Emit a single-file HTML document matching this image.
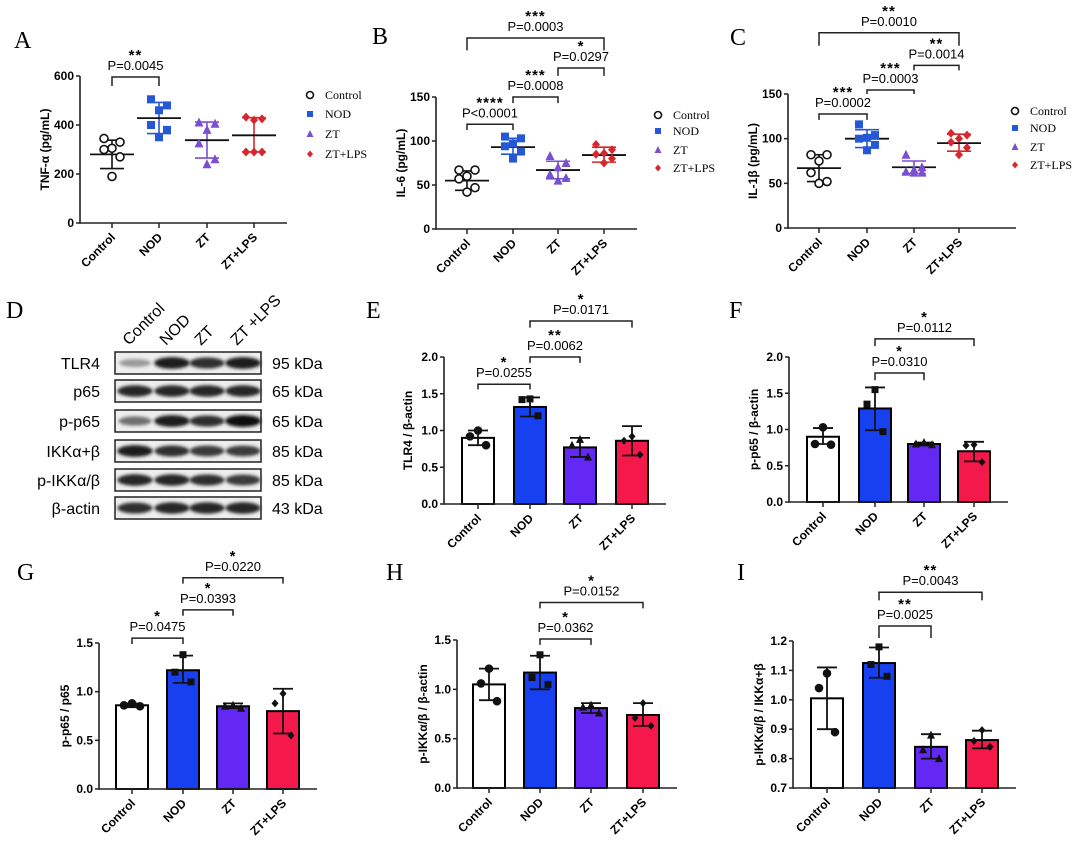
<!DOCTYPE html>
<html><head><meta charset="utf-8">
<style>
html,body{margin:0;padding:0;background:#fff;}
svg{display:block;font-family:"Liberation Sans",Arial,sans-serif;}
.tick{font-size:12px;font-weight:bold;}
.ylab{font-size:12px;font-weight:bold;}
.pt{font-size:13px;}
.star{font-size:15px;font-weight:bold;}
.serif{font-family:"Liberation Serif",serif;}
</style></head>
<body>
<svg id="fig" width="1080" height="845" viewBox="0 0 1080 845" xmlns="http://www.w3.org/2000/svg">
<defs><filter id="blur" x="-20%" y="-50%" width="140%" height="200%"><feGaussianBlur stdDeviation="1.6"/></filter></defs>
</svg>
<script>
// ---------- data ----------
const categories = ["Control","NOD","ZT","ZT+LPS"];
// Panel A TNF-α
const aMean=[280,428,338,358], aUp=[338,492,412,430], aLo=[222,365,265,290];
const aPts=[[345,330,305,300,270,190],[505,480,460,400,380,350],[410,405,380,325,260,240],[432,425,420,290,290,290]];
const aTicks=[0,200,400,600];
// Panel B IL-6
const bMean=[55,93,67,84], bUp=[66,103,77,93], bLo=[44,85,57,76];
const bPts=[[67,67,60,57,47,42],[105,103,97,94,88,80],[83,75,70,62,58,55],[96,90,86,85,80,75]];
const bTicks=[0,50,100,150];
// Panel C IL-1β
const cMean=[67,100,68,95], cUp=[82,110,75,105], cLo=[52,90,61,86];
const cPts=[[82,82,75,62,52,50],[116,104,101,100,93,87],[82,68,65,63,62,62],[106,104,100,96,90,82]];
const cTicks=[0,50,100,150];
// Panel E TLR4/β-actin
const eMean=[0.90,1.32,0.77,0.86], eUp=[1.00,1.45,0.90,1.06], eLo=[0.80,1.19,0.64,0.66];
const ePts=[[1.00,0.92,0.80],[1.43,1.42,1.20],[0.88,0.80,0.64],[0.92,0.86,0.67]];
const eTicks=[0,0.5,1.0,1.5,2.0];
// Panel F p-p65/β-actin
const fMean=[0.90,1.29,0.80,0.70], fUp=[1.02,1.58,0.82,0.83], fLo=[0.80,0.99,0.78,0.56];
const fPts=[[1.03,0.80,0.79],[1.55,1.35,0.97],[0.82,0.80,0.79],[0.79,0.78,0.55]];
const fTicks=[0,0.5,1.0,1.5,2.0];
// Panel G p-p65/p65
const gMean=[0.86,1.22,0.85,0.80], gUp=[0.88,1.37,0.88,1.03], gLo=[0.84,1.09,0.83,0.57];
const gPts=[[0.88,0.86,0.85],[1.38,1.20,1.10],[0.86,0.85,0.83],[0.98,0.88,0.55]];
const gTicks=[0,0.5,1.0,1.5];
// Panel H p-IKK/β-actin
const hMean=[1.05,1.17,0.81,0.74], hUp=[1.21,1.34,0.86,0.86], hLo=[0.89,1.00,0.76,0.63];
const hPts=[[1.21,1.06,0.88],[1.35,1.12,1.05],[0.84,0.82,0.76],[0.86,0.71,0.63]];
const hTicks=[0,0.5,1.0,1.5];
// Panel I p-IKK/IKK
const iMean=[1.005,1.125,0.840,0.863], iUp=[1.11,1.178,0.883,0.895], iLo=[0.90,1.075,0.80,0.835];
const iPts=[[1.09,1.04,0.89],[1.18,1.12,1.08],[0.88,0.83,0.80],[0.897,0.86,0.84]];
const iTicks=[0.7,0.8,0.9,1.0,1.1,1.2];
// significance brackets: [from,to,topValue,legValue,pText,stars]
const aSig=[[0,1,596,559,"P=0.0045","**"]];
const bSig=[[0,1,119,112.5,"P<0.0001","****"],[1,2,150,143,"P=0.0008","***"],[2,3,183,174,"P=0.0297","*"],[0,3,217,203,"P=0.0003","***"]];
const cSig=[[0,1,127.6,121,"P=0.0002","***"],[1,2,154.5,150,"P=0.0003","***"],[2,3,182,176.5,"P=0.0014","**"],[0,3,218.5,204,"P=0.0010","**"]];
const eSig=[[0,1,1.63,1.56,"P=0.0255","*"],[1,2,2.0,1.92,"P=0.0062","**"],[1,3,2.49,2.40,"P=0.0171","*"]];
const fSig=[[1,2,1.78,1.68,"P=0.0310","*"],[1,3,2.25,2.15,"P=0.0112","*"]];
const gSig=[[0,1,1.55,1.49,"P=0.0475","*"],[1,2,1.84,1.78,"P=0.0393","*"],[1,3,2.17,2.11,"P=0.0220","*"]];
const hSig=[[1,2,1.51,1.45,"P=0.0362","*"],[1,3,1.88,1.82,"P=0.0152","*"]];
const iSig=[[1,2,1.251,1.21,"P=0.0025","**"],[1,3,1.366,1.338,"P=0.0043","**"]];

// ---------- helpers ----------
const NS="http://www.w3.org/2000/svg";
const svg=document.getElementById('fig');
function mk(parent,tag,attrs,name,text){
  const el=document.createElementNS(NS,tag);
  for(const k in attrs) el.setAttribute(k,attrs[k]);
  
  
  if(text!==undefined) el.textContent=text;
  parent.appendChild(el);
  return el;
}
const scColors=["#111","#2458d6","#7a4fd2","#d8262c"];
const barColors=["#ffffff","#1741f0","#6428f4","#f5184b"];
function marker(g,type,x,y,r,fill,stroke){
  if(type===0) return mk(g,'circle',{cx:x,cy:y,r:r,fill:fill==='none'?'#fff':fill,stroke:stroke,'stroke-width':1.6},'point-control');
  if(type===1) return mk(g,'rect',{x:x-r,y:y-r,width:2*r,height:2*r,fill:fill==='none'?stroke:fill},'point-nod');
  if(type===2) return mk(g,'polygon',{points:`${x},${y-r-1} ${x+r+0.5},${y+r} ${x-r-0.5},${y+r}`,fill:fill==='none'?stroke:fill},'point-zt');
  return mk(g,'polygon',{points:`${x},${y-r-0.5} ${x+r},${y} ${x},${y+r+0.5} ${x-r},${y}`,fill:fill==='none'?stroke:fill},'point-zt-lps');
}
function fmt(v,dec){return dec===0?String(v):v.toFixed(dec);}

function panel(cfg){
  const g=mk(svg,'g',{},cfg.name);
  const y=v=>cfg.y0-(v-cfg.vmin)/(cfg.vmax-cfg.vmin)*(cfg.y0-cfg.yTop);
  const x=i=>cfg.cx[i];
  mk(g,'text',{x:cfg.letter[0],y:cfg.letter[1],class:'serif','font-size':24},'panel-letter',cfg.letterText);
  mk(g,'text',{x:cfg.ylabX,y:(cfg.y0+cfg.yTop)/2,class:'ylab','text-anchor':'middle',transform:`rotate(-90 ${cfg.ylabX} ${(cfg.y0+cfg.yTop)/2})`},'y-axis-title',cfg.ylab);
  const n=categories.length;
  for(let i=0;i<n;i++){
    if(cfg.bars){
      const top=y(cfg.mean[i]);
      mk(g,'rect',{x:x(i)-16,y:top,width:32,height:cfg.y0-top,fill:barColors[i],stroke:'#000','stroke-width':2},'bar-'+categories[i].toLowerCase().replace('+','-'));
      mk(g,'line',{x1:x(i),x2:x(i),y1:y(cfg.up[i]),y2:y(cfg.lo[i]),stroke:'#111','stroke-width':1.8},'error-bar');
      mk(g,'line',{x1:x(i)-10,x2:x(i)+10,y1:y(cfg.up[i]),y2:y(cfg.up[i]),stroke:'#111','stroke-width':1.8},'error-cap');
      mk(g,'line',{x1:x(i)-10,x2:x(i)+10,y1:y(cfg.lo[i]),y2:y(cfg.lo[i]),stroke:'#111','stroke-width':1.8},'error-cap');
      const offs=[0,-8,8];
      cfg.pts[i].forEach((v,j)=>marker(g,i,x(i)+offs[j%3],y(v),3.5,'#111','#111'));
    } else {
      const col=scColors[i];
      const offs=[-8,8,0,-8,8,0];
      mk(g,'line',{x1:x(i),x2:x(i),y1:y(cfg.up[i]),y2:y(cfg.lo[i]),stroke:col,'stroke-width':1.6},'sd-line');
      mk(g,'line',{x1:x(i)-12,x2:x(i)+12,y1:y(cfg.up[i]),y2:y(cfg.up[i]),stroke:col,'stroke-width':1.6},'sd-cap');
      mk(g,'line',{x1:x(i)-12,x2:x(i)+12,y1:y(cfg.lo[i]),y2:y(cfg.lo[i]),stroke:col,'stroke-width':1.6},'sd-cap');
      mk(g,'line',{x1:x(i)-22,x2:x(i)+22,y1:y(cfg.mean[i]),y2:y(cfg.mean[i]),stroke:'#111','stroke-width':1.8},'mean-line');
      cfg.pts[i].forEach((v,j)=>marker(g,i,x(i)+offs[j%6],y(v),4,i===0?'none':col,col));
    }
  }
  mk(g,'line',{x1:cfg.ax,x2:cfg.ax,y1:cfg.yTop,y2:cfg.y0+0.8,stroke:'#222','stroke-width':1.6},'y-axis');
  mk(g,'line',{x1:cfg.ax,x2:cfg.xEnd,y1:cfg.y0,y2:cfg.y0,stroke:'#222','stroke-width':1.6},'x-axis');
  cfg.ticks.forEach(t=>{
    mk(g,'line',{x1:cfg.ax-4,x2:cfg.ax,y1:y(t),y2:y(t),stroke:'#222','stroke-width':1.5},'y-tick');
    mk(g,'text',{x:cfg.ax-6,y:y(t)+4,class:'tick','text-anchor':'end'},'y-tick-label',fmt(t,cfg.dec));
  });
  for(let i=0;i<n;i++){
    mk(g,'line',{x1:x(i),x2:x(i),y1:cfg.y0,y2:cfg.y0+5,stroke:'#222','stroke-width':1.5},'x-tick');
    const lx=x(i)+4, ly=cfg.y0+15;
    mk(g,'text',{x:lx,y:ly,class:'tick','text-anchor':'end',transform:`rotate(-45 ${lx} ${ly})`},'x-tick-label',categories[i]);
  }
  cfg.sig.forEach(s=>{
    const x1=x(s[0]),x2=x(s[1]),yt=y(s[2]),yl=y(s[3]);
    mk(g,'polyline',{points:`${x1},${yl} ${x1},${yt} ${x2},${yt} ${x2},${yl}`,fill:'none',stroke:'#222','stroke-width':1.5},'significance-bracket');
    mk(g,'text',{x:(x1+x2)/2,y:yt-7,class:'pt','text-anchor':'middle'},'p-value-label',s[4]);
    mk(g,'text',{x:(x1+x2)/2,y:yt-17,class:'star','text-anchor':'middle','letter-spacing':'1'},'significance-stars',s[5]);
  });
  if(cfg.legend){
    categories.forEach((c,i)=>{
      const ly=cfg.legend.y[i];
      marker(g,i,cfg.legend.x,ly,i===0?3.5:3,i===0?'none':scColors[i],scColors[i]);
      mk(g,'text',{x:cfg.legend.x+15,y:ly+4,class:'serif','font-size':12},'legend-entry',c);
    });
  }
}

panel({name:'panel-a-tnf',letterText:'A',letter:[14,48],ylab:'TNF-α (pg/mL)',ylabX:49,ax:80,y0:223,yTop:76,vmin:0,vmax:600,xEnd:287,cx:[112,159,207,254],
  mean:aMean,up:aUp,lo:aLo,pts:aPts,ticks:aTicks,dec:0,sig:aSig,bars:false,legend:{x:310,y:[95,114,134,154]}});
panel({name:'panel-b-il6',letterText:'B',letter:[372,44],ylab:'IL-6 (pg/mL)',ylabX:405,ax:436,y0:229,yTop:97,vmin:0,vmax:150,xEnd:637,cx:[467,513,558,604],
  mean:bMean,up:bUp,lo:bLo,pts:bPts,ticks:bTicks,dec:0,sig:bSig,bars:false,legend:{x:658,y:[115,131,150,168]}});
panel({name:'panel-c-il1b',letterText:'C',letter:[730,45],ylab:'IL-1β (pg/mL)',ylabX:757,ax:788,y0:228,yTop:94,vmin:0,vmax:150,xEnd:1016,cx:[819,867,914,959],
  mean:cMean,up:cUp,lo:cLo,pts:cPts,ticks:cTicks,dec:0,sig:cSig,bars:false,legend:{x:1015,y:[111,128,147,165]}});
panel({name:'panel-e-tlr4',letterText:'E',letter:[366,318],ylab:'TLR4 / β-actin',ylabX:412,ax:444,y0:504,yTop:357,vmin:0,vmax:2,xEnd:666,cx:[478,530,580,632],
  mean:eMean,up:eUp,lo:eLo,pts:ePts,ticks:eTicks,dec:1,sig:eSig,bars:true});
panel({name:'panel-f-pp65-actin',letterText:'F',letter:[729,318],ylab:'p-p65 / β-actin',ylabX:758,ax:789,y0:502,yTop:357,vmin:0,vmax:2,xEnd:1008,cx:[823,875,924,974],
  mean:fMean,up:fUp,lo:fLo,pts:fPts,ticks:fTicks,dec:1,sig:fSig,bars:true});
panel({name:'panel-g-pp65-p65',letterText:'G',letter:[17,580],ylab:'p-p65 / p65',ylabX:69,ax:99,y0:789,yTop:643,vmin:0,vmax:1.5,xEnd:317,cx:[132,183,233,283],
  mean:gMean,up:gUp,lo:gLo,pts:gPts,ticks:gTicks,dec:1,sig:gSig,bars:true});
panel({name:'panel-h-pikk-actin',letterText:'H',letter:[386,580],ylab:'p-IKKα/β / β-actin',ylabX:427,ax:457,y0:788,yTop:640,vmin:0,vmax:1.5,xEnd:677,cx:[489,540,591,643],
  mean:hMean,up:hUp,lo:hLo,pts:hPts,ticks:hTicks,dec:1,sig:hSig,bars:true});
panel({name:'panel-i-pikk-ikk',letterText:'I',letter:[737,580],ylab:'p-IKKα/β / IKKα+β',ylabX:763,ax:793,y0:788,yTop:641,vmin:0.7,vmax:1.2,xEnd:1016,cx:[827,879,931,982],
  mean:iMean,up:iUp,lo:iLo,pts:iPts,ticks:iTicks,dec:1,sig:iSig,bars:true});

// ---------- Panel D western blot ----------
const blotRows=["TLR4","p65","p-p65","IKKα+β","p-IKKα/β","β-actin"];
const blotKda=["95 kDa","65 kDa","65 kDa","85 kDa","85 kDa","43 kDa"];
const blotIntensity=[[0.35,0.95,0.85,0.95],[0.9,0.9,0.9,0.9],[0.55,0.95,0.85,1.0],[0.95,0.85,0.8,0.8],[0.9,0.9,0.85,0.8],[0.85,0.9,0.9,0.9]];
const blotLanes=["Control","NOD","ZT","ZT +LPS"];
(function(){
  const g=mk(svg,'g',{},'panel-d-western-blot');
  mk(g,'text',{x:6,y:318,class:'serif','font-size':24},'panel-letter','D');
  const laneX=[135,172,207,243];
  const rowTop=[352,380,410,440,469,497], h=22;
  blotLanes.forEach((l,i)=>{
    const lx=laneX[i]-6, ly=346;
    mk(g,'text',{x:lx,y:ly,'font-size':16,transform:`rotate(-45 ${lx} ${ly})`},'lane-label',l);
  });
  blotRows.forEach((r,ri)=>{
    const t=rowTop[ri];
    mk(g,'rect',{x:115,y:t,width:146,height:h,fill:'#eeeeee',stroke:'#222','stroke-width':1.5},'blot-strip');
    blotIntensity[ri].forEach((v,li)=>{
      const c=Math.round(230-v*215);
      mk(g,'ellipse',{cx:laneX[li],cy:t+h/2,rx:15+v*3,ry:3+v*3,fill:`rgb(${c},${c},${c})`,filter:'url(#blur)'},'blot-band');
    });
    mk(g,'text',{x:100,y:t+h/2+6,'font-size':16,'text-anchor':'end'},'blot-row-label',r);
    mk(g,'text',{x:272,y:t+h/2+6,'font-size':16},'blot-kda-label',blotKda[ri]);
  });
})();
</script>
</body></html>
